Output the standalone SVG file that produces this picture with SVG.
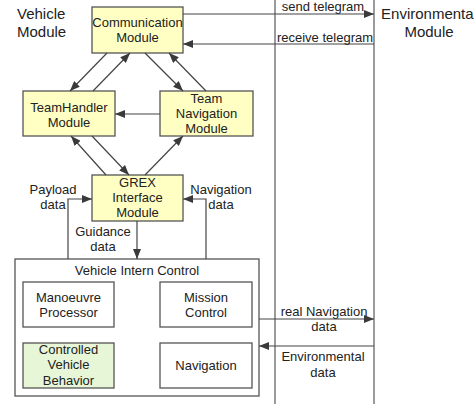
<svg xmlns="http://www.w3.org/2000/svg" width="474" height="404" viewBox="0 0 474 404">
<defs>
<marker id="ah" viewBox="0 0 10 8" refX="10" refY="4" markerWidth="10" markerHeight="8" markerUnits="userSpaceOnUse" orient="auto">
<path d="M0,0 L10,4 L0,8 Z" fill="#3a3a3a"/>
</marker>
</defs>
<style>
text{font-family:"Liberation Sans",Arial,sans-serif;fill:#222;}
.n{font-size:13px;text-anchor:middle;}
.t{font-size:15px;}
.y{fill:#ffffc4;stroke:#555;stroke-width:1.3;}
.w{fill:#fff;stroke:#555;stroke-width:1.3;}
.g{fill:#e8f6d8;stroke:#555;stroke-width:1.3;}
.c{fill:none;stroke:#444;stroke-width:1.2;}
.a{marker-end:url(#ah);}
.v{stroke:#666;stroke-width:1.3;}
</style>
<rect width="474" height="404" fill="#fff"/>
<g id="lanes">
<line class="v" x1="275" y1="0" x2="275" y2="404"/>
<line class="v" x1="374" y1="0" x2="374" y2="404"/>
</g>
<g id="vehicle-module-title"><text class="t" x="17" y="19">Vehicle</text><text class="t" x="17" y="37">Module</text></g>
<g id="environmental-module-title"><text class="t" x="429" y="19" text-anchor="middle">Environmental</text><text class="t" x="429" y="37" text-anchor="middle">Module</text></g>
<g id="communication"><rect class="y" x="92" y="7" width="91" height="46"/><text class="n" x="137.5" y="26.5">Communication</text><text class="n" x="137.5" y="41.5">Module</text></g>
<g id="teamhandler"><rect class="y" x="23" y="91" width="92" height="45"/><text class="n" x="69" y="111.5">TeamHandler</text><text class="n" x="69" y="126.5">Module</text></g>
<g id="teamnavigation"><rect class="y" x="160" y="91" width="93" height="45"/><text class="n" x="206.5" y="102.5">Team</text><text class="n" x="206.5" y="117.5">Navigation</text><text class="n" x="206.5" y="132.5">Module</text></g>
<g id="grex"><rect class="y" x="92" y="175" width="91" height="46"/><text class="n" x="137.5" y="186.5">GREX</text><text class="n" x="137.5" y="201.5">Interface</text><text class="n" x="137.5" y="216.5">Module</text></g>
<g id="vehicle-intern-control"><rect class="w" x="15" y="259" width="244" height="137"/><text class="n" x="137" y="274.5">Vehicle Intern Control</text></g>
<g id="manoeuvre"><rect class="w" x="23" y="282" width="91" height="45"/><text class="n" x="68.5" y="301.5">Manoeuvre</text><text class="n" x="68.5" y="316.5">Processor</text></g>
<g id="mission"><rect class="w" x="160" y="282" width="92" height="45"/><text class="n" x="206" y="301.5">Mission</text><text class="n" x="206" y="316.5">Control</text></g>
<g id="controlled"><rect class="g" x="23" y="343" width="91" height="45"/><text class="n" x="68.5" y="353.5">Controlled</text><text class="n" x="68.5" y="369">Vehicle</text><text class="n" x="68.5" y="384.5">Behavior</text></g>
<g id="navigation"><rect class="w" x="160" y="343" width="92" height="45"/><text class="n" x="206" y="369.5">Navigation</text></g>
<g id="connectors">
<line class="c a" x1="183" y1="14" x2="374" y2="14"/>
<line class="c a" x1="374" y1="44" x2="183" y2="44"/>
<line class="c a" x1="107" y1="53" x2="70" y2="91"/>
<line class="c a" x1="93" y1="91" x2="130" y2="53"/>
<line class="c a" x1="145" y1="53" x2="183" y2="91"/>
<line class="c a" x1="206" y1="91" x2="169" y2="53"/>
<line class="c a" x1="160" y1="114" x2="115" y2="114"/>
<line class="c a" x1="106" y1="175" x2="71" y2="136"/>
<line class="c a" x1="92" y1="136" x2="129" y2="175"/>
<line class="c a" x1="145" y1="175" x2="183" y2="136"/>
<polyline class="c a" points="68,259 68,199 92,199"/>
<polyline class="c a" points="206,259 206,199 183,199"/>
<line class="c a" x1="137" y1="221" x2="137" y2="259"/>
<line class="c a" x1="259" y1="319" x2="374" y2="319"/>
<line class="c a" x1="374" y1="346" x2="259" y2="346"/>
</g>
<g id="labels">
<text class="n" x="323" y="11">send telegram</text>
<text class="n" x="325" y="41.5">receive telegram</text>
<text class="n" x="53" y="194">Payload</text><text class="n" x="53" y="209">data</text>
<text class="n" x="221" y="194">Navigation</text><text class="n" x="221" y="209">data</text>
<text class="n" x="103" y="235.5">Guidance</text><text class="n" x="103" y="251">data</text>
<text class="n" x="324" y="316">real Navigation</text><text class="n" x="324" y="331">data</text>
<text class="n" x="323" y="361">Environmental</text><text class="n" x="323" y="377">data</text>
</g>
</svg>
